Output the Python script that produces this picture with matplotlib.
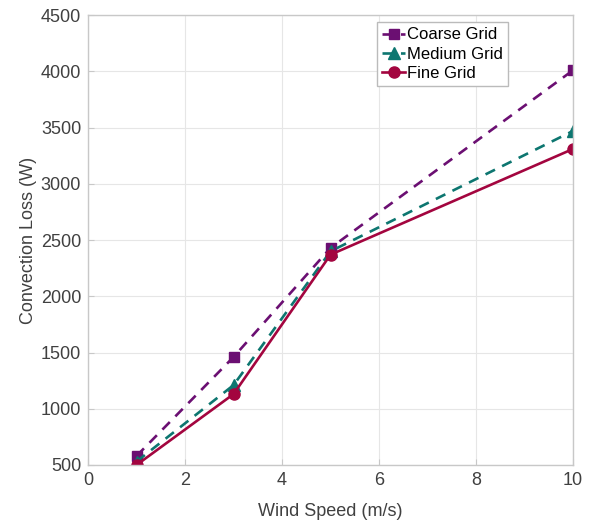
import matplotlib.pyplot as plt

wind_speed = [1, 3, 5, 10]
coarse = [580, 1460, 2430, 4010]
medium = [530, 1210, 2400, 3470]
fine = [500, 1130, 2370, 3310]

plt.rcParams['font.family'] = ['Liberation Sans', 'DejaVu Sans']

fig = plt.figure(figsize=(5.95, 5.23), dpi=100)
ax = fig.add_axes([0.148, 0.111, 0.815, 0.860])

ax.plot(wind_speed, coarse, '--s', color='#6b0f72', lw=1.9, ms=7, label='Coarse Grid',
        dashes=(4, 3))
ax.plot(wind_speed, medium, '--^', color='#0d7670', lw=1.9, ms=8, label='Medium Grid',
        dashes=(4, 3))
ax.plot(wind_speed, fine, '-o', color='#a3053f', lw=1.9, ms=8, label='Fine Grid')

ax.set_xlim(0, 10)
ax.set_ylim(500, 4500)
ax.set_xticks(range(0, 11, 2))
ax.set_yticks(range(500, 4501, 500))
ax.set_xlabel('Wind Speed (m/s)', fontsize=13, color='#404040', labelpad=10)
ax.set_ylabel('Convection Loss (W)', fontsize=13, color='#404040', labelpad=3)
ax.tick_params(labelsize=13, colors='#404040', direction='in', length=4, pad=5)
ax.tick_params(axis='both', color='#c8c8c8')
ax.grid(True, color='#e6e6e6', lw=0.8)
ax.set_axisbelow(True)
for s in ax.spines.values():
    s.set_color('#c8c8c8')
    s.set_linewidth(1.0)

leg = ax.legend(loc='upper left', bbox_to_anchor=(0.596, 0.984), fontsize=12,
                handlelength=1.4, handletextpad=0.1, borderpad=0.3,
                labelspacing=0.25, borderaxespad=0, fancybox=False, framealpha=1)
leg.get_frame().set_edgecolor('#bbbbbb')

fig.savefig('out.png', dpi=100)
